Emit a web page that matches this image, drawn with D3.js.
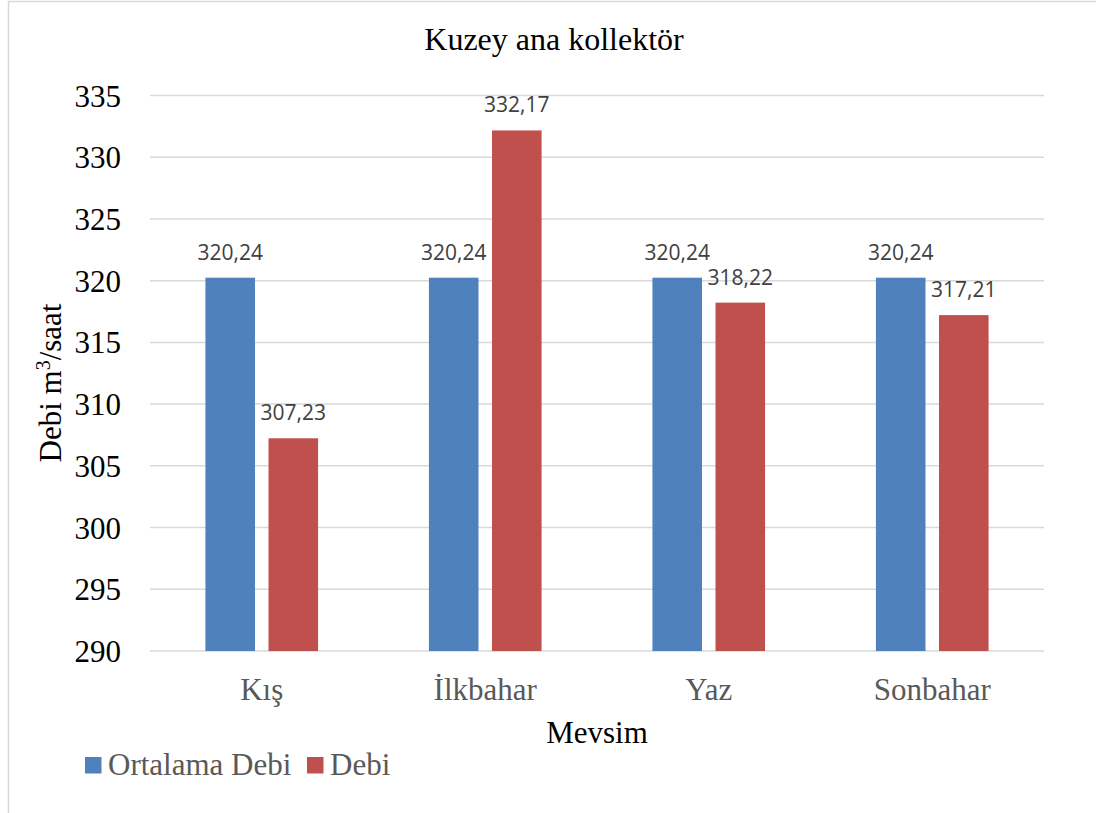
<!DOCTYPE html>
<html>
<head>
<meta charset="utf-8">
<script src="https://cdn.jsdelivr.net/npm/d3@7"></script>
<style>
  body { margin: 0; background: #fff; }
  svg { display: block; }
</style>
</head>
<body>
<div id="chart"></div>
<script>
const categories = ["Kış", "İlkbahar", "Yaz", "Sonbahar"];
const seriesNames = ["Ortalama Debi", "Debi"];
const ortalamaDebi = [320.24, 320.24, 320.24, 320.24];
const debi = [307.23, 332.17, 318.22, 317.21];
const yTicks = [290, 295, 300, 305, 310, 315, 320, 325, 330, 335];
const colors = ["#4f81bd", "#c0504d"];

const W = 1096, H = 813;
const margin = { top: 95.5, right: 52, bottom: 162, left: 150 };
const width = W - margin.left - margin.right,
    height = H - margin.top - margin.bottom;

const svg = d3.select("#chart")
    .append("svg")
    .attr("width", W)
    .attr("height", H);

// outer chart border (runs off right and bottom edge)
svg.append("rect")
    .attr("x", 8.5)
    .attr("y", 1.5)
    .attr("width", 1200)
    .attr("height", 900)
    .attr("fill", "none")
    .attr("stroke", "#d9d9d9")
    .attr("stroke-width", 1.5);

const g = svg.append("g")
    .attr("transform", `translate(${margin.left},${margin.top})`);

const x = d3.scaleBand()
    .domain(categories)
    .range([0, width]);

const x1 = d3.scaleBand()
    .domain(seriesNames)
    .range([x.bandwidth() * 0.248, x.bandwidth() * 0.752])
    .paddingInner(0.214);

const y = d3.scaleLinear()
    .domain([290, 335])
    .range([height, 0]);

// gridlines
g.selectAll(".grid")
    .data(yTicks)
    .join("line")
    .attr("class", "grid")
    .attr("x1", 0)
    .attr("x2", width)
    .attr("y1", d => y(d))
    .attr("y2", d => y(d))
    .attr("stroke", "#d9d9d9")
    .attr("stroke-width", 1.5);

// y tick labels
g.selectAll(".ytick")
    .data(yTicks)
    .join("text")
    .attr("class", "ytick")
    .attr("x", -29)
    .attr("y", d => y(d) + 11)
    .attr("text-anchor", "end")
    .style("font-family", "'Liberation Serif', 'Times New Roman', serif")
    .style("font-size", "31px")
    .attr("fill", "#000")
    .text(d => d);

const rows = categories.map((c, i) => ({
    cat: c,
    vals: [ortalamaDebi[i], debi[i]]
}));

const groups = g.selectAll(".grp")
    .data(rows)
    .join("g")
    .attr("class", "grp")
    .attr("transform", d => `translate(${x(d.cat)},0)`);

groups.selectAll("rect")
    .data(d => d.vals.map((v, j) => ({ s: seriesNames[j], v: v, j: j })))
    .join("rect")
    .attr("x", d => x1(d.s))
    .attr("width", x1.bandwidth())
    .attr("y", d => y(d.v))
    .attr("height", d => height - y(d.v))
    .attr("fill", d => colors[d.j]);

groups.selectAll(".lbl")
    .data(d => d.vals.map((v, j) => ({ s: seriesNames[j], v: v })))
    .join("text")
    .attr("class", "lbl")
    .attr("x", d => x1(d.s) + x1.bandwidth() / 2)
    .attr("y", d => y(d.v) - 18)
    .attr("text-anchor", "middle")
    .style("font-family", "'Open Sans', sans-serif")
    .style("font-size", "21px")
    .attr("fill", "#404040")
    .text(d => d3.format(".2f")(d.v).replace(".", ","));

// category labels
g.selectAll(".xtick")
    .data(categories)
    .join("text")
    .attr("class", "xtick")
    .attr("x", d => x(d) + x.bandwidth() / 2)
    .attr("y", height + 49)
    .attr("text-anchor", "middle")
    .style("font-family", "'Liberation Serif', 'Times New Roman', serif")
    .style("font-size", "31px")
    .attr("fill", "#595959")
    .text(d => d);

// title
svg.append("text")
    .attr("x", 554)
    .attr("y", 50)
    .attr("text-anchor", "middle")
    .style("font-family", "'Liberation Serif', 'Times New Roman', serif")
    .style("font-size", "32px")
    .attr("fill", "#000")
    .text("Kuzey ana kollektör");

// x axis title
svg.append("text")
    .attr("x", 597)
    .attr("y", 743)
    .attr("text-anchor", "middle")
    .style("font-family", "'Liberation Serif', 'Times New Roman', serif")
    .style("font-size", "31px")
    .attr("fill", "#000")
    .text("Mevsim");

// y axis title with superscript
const yt = svg.append("text")
    .attr("transform", "translate(61,383) rotate(-90)")
    .attr("text-anchor", "middle")
    .style("font-family", "'Liberation Serif', 'Times New Roman', serif")
    .style("font-size", "31px")
    .attr("fill", "#000");
yt.append("tspan").text("Debi m");
yt.append("tspan").attr("dy", -11).style("font-size", "20px").text("3");
yt.append("tspan").attr("dy", 11).text("/saat");

// legend
const leg = svg.append("g").attr("transform", "translate(85,757)");
const legX = [0, 222];
leg.selectAll("rect")
    .data(seriesNames)
    .join("rect")
    .attr("x", (d, i) => legX[i])
    .attr("y", 0)
    .attr("width", 16.5)
    .attr("height", 16.5)
    .attr("fill", (d, i) => colors[i]);
leg.selectAll("text")
    .data(seriesNames)
    .join("text")
    .attr("x", (d, i) => legX[i] + 23)
    .attr("y", 18)
    .style("font-family", "'Liberation Serif', 'Times New Roman', serif")
    .style("font-size", "31px")
    .attr("fill", "#595959")
    .text(d => d);
</script>
</body>
</html>
